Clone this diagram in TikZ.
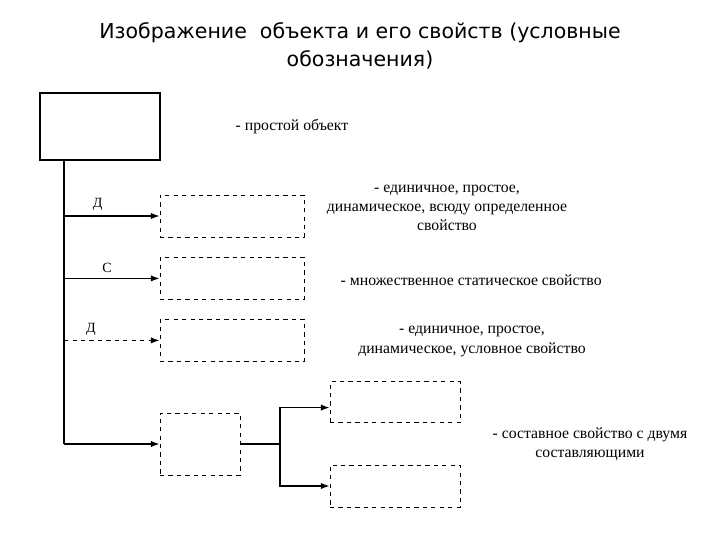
\documentclass[tikz,border=0pt]{standalone}
\usepackage{fontspec}
\setmainfont{Liberation Serif}
\newfontfamily\titlefont{DejaVu Sans}
\usetikzlibrary{arrows.meta,positioning}

\begin{document}
\begin{tikzpicture}[
    obj/.style={draw,line width=1.2pt,minimum width=3cm,minimum height=1.675cm},
    prop/.style={draw,dashed,line width=0.6pt,minimum width=3.6cm,minimum height=1.05cm},
    note/.style={align=center,font=\fontsize{11.2}{13.5}\selectfont},
    link/.style={line width=0.9pt},
    >={Latex[length=2.2mm,width=1.6mm]}]
  \useasboundingbox (0,0) rectangle (18,-13.5);
  \node[align=center,font=\titlefont\fontsize{14.6}{19.5}\selectfont] (title) at (9,-1.15)
    {Изображение\ \ объекта и его свойств (условные\\обозначения)};
  \node[obj] (object) at (2.5,-3.1625) {};
  \node[note] (objnote) at (7.3,-3.175) {- простой объект};
  \node[prop] (single) at (5.8,-5.4) {};
  \node[prop] (multi) at (5.8,-6.96) {};
  \node[prop] (cond) at (5.8,-8.51) {};
  \node[prop,minimum width=2cm,minimum height=1.55cm] (compound) at (5,-11.1) {};
  \node[prop,minimum width=3.25cm,minimum height=1.025cm] (partA) at (9.875,-10.06) {};
  \node[prop,minimum width=3.25cm] (partB) at (9.875,-12.15) {};
  \node[note] (singlenote) at (11.175,-5.2)
    {- единичное, простое,\\динамическое, всюду определенное\\свойство};
  \node[note] (multinote) at (11.78,-7.0) {- множественное статическое свойство};
  \node[note,text depth=0pt] (condnote) at (11.8,-8.5)
    {- единичное, простое,\\[1pt]динамическое, условное свойство};
  \node[note] (compnote) at (14.75,-11.1)
    {- составное свойство с двумя\\составляющими};
  \coordinate (trunk) at ([xshift=0.625cm]object.south west);
  \coordinate (fork) at (7,-11.1);
  \draw[link,line width=1.2pt] (trunk) |- (compound.west -| trunk);
  \draw[link,->] (single.west -| trunk) -- node[above,pos=0.35]{Д} (single.west);
  \draw[link,->] (multi.west -| trunk) -- node[above,pos=0.45]{С} (multi.west);
  \draw[link,dashed,->] (cond.west -| trunk) -- node[above,pos=0.28]{Д} (cond.west);
  \draw[link,->] (compound.west -| trunk) -- (compound.west);
  \draw[link] (compound.east) -- (fork);
  \draw[link,->] (fork) |- ([yshift=-0.13cm]partA.west);
  \draw[link,->] (fork) |- (partB.west);
\end{tikzpicture}
\end{document}
